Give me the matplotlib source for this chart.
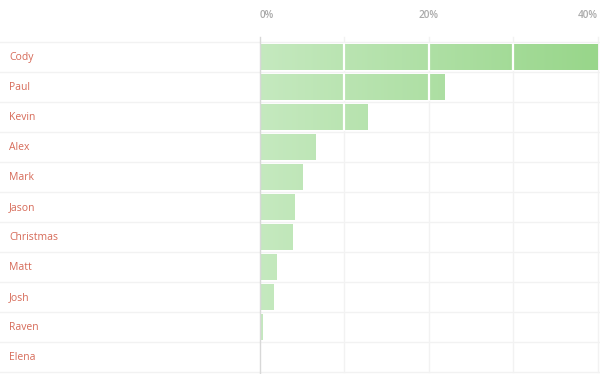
import matplotlib
matplotlib.use("Agg")
import matplotlib.pyplot as plt
import numpy as np
from matplotlib.colors import LinearSegmentedColormap
from matplotlib.patches import Rectangle

names = ["Cody", "Paul", "Kevin", "Alex", "Mark", "Jason", "Christmas", "Matt", "Josh", "Raven", "Elena"]
values = [40.0, 21.9, 12.8, 6.6, 5.1, 4.15, 3.95, 2.0, 1.65, 0.35, 0.0]
ticks = [0, 20, 40]
tick_labels = ["0%", "20%", "40%"]
grid_vals = [0, 10, 20, 30, 40]

W, H = 600, 374
fig = plt.figure(figsize=(W / 100, H / 100), dpi=100)
x0, x1 = 259.5, 597.5
y0, y1 = 42, 372
ax = fig.add_axes([x0 / W, 1 - y1 / H, (x1 - x0) / W, (y1 - y0) / H])
ax.set_xlim(0, 40)
n = len(names)
ax.set_ylim(n - 0.5, -0.5)
ax.axis("off")

font = "Open Sans"
grid_c = "#f2f2f2"

# row separators across full width
for i in range(n + 1):
    ax.plot([-x0 / (x1 - x0) * 40, (W - x0) / (x1 - x0) * 40], [i - 0.5, i - 0.5],
            color=grid_c, lw=1, clip_on=False, zorder=1)

# vertical grid lines (extend slightly above rows)
top_ext = -0.5 - 5 / 30
for g in grid_vals[1:]:
    ax.plot([g, g], [top_ext, n - 0.5], color=grid_c, lw=1, clip_on=False, zorder=1)
ax.plot([0, 0], [top_ext, n - 0.5 + 2 / 30], color="#d8d8d8", lw=1, clip_on=False, zorder=5)

cmap = LinearSegmentedColormap.from_list("g", ["#c5e9bf", "#98d68a"])
grad = np.linspace(0, 1, 256).reshape(1, -1)
bh = 0.88
for i, v in enumerate(values):
    if v <= 0:
        continue
    im = ax.imshow(grad, cmap=cmap, extent=[0, 40, i + bh / 2, i - bh / 2],
                   aspect="auto", zorder=2, interpolation="bilinear")
    r = Rectangle((0.08, i - bh / 2), v - 0.08, bh, transform=ax.transData,
                  facecolor="none", edgecolor="none")
    ax.add_patch(r)
    im.set_clip_path(r)
    # white grid lines over bars
    for g in grid_vals[1:-1]:
        if g < v:
            ax.plot([g, g], [i - bh / 2, i + bh / 2], color="white", lw=1.6, zorder=3)

for i, nm in enumerate(names):
    ax.text(-x0 / (x1 - x0) * 40 + 9 / (x1 - x0) * 40, i + 0.02, nm, color="#d66a58",
            fontsize=7.5, family=font, va="center", ha="left", clip_on=False)

for t, lab in zip(ticks, tick_labels):
    ha = "left" if t == ticks[0] else ("right" if t == ticks[-1] else "center")
    ax.text(t, -0.5 - 26 / 30, lab, color="#aaaaaa", fontsize=7.2, family=font,
            fontweight="semibold", ha=ha, va="center", clip_on=False)

fig.savefig("out.png", dpi=100, facecolor="white")
